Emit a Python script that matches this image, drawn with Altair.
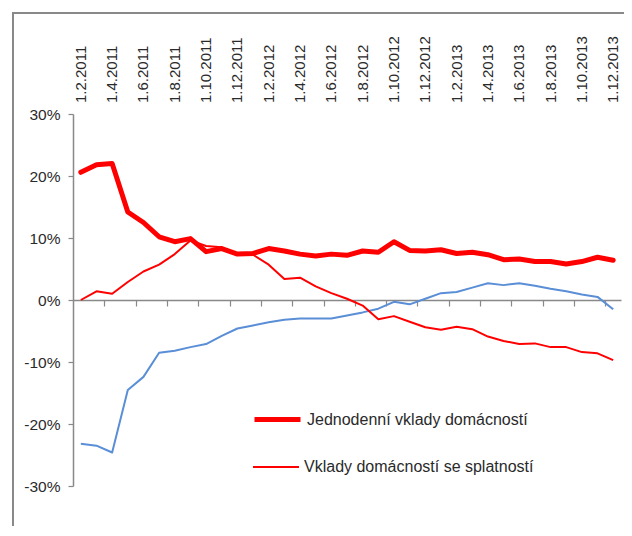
import altair as alt
import pandas as pd

# ---- data -----------------------------------------------------------------
months = []
for k in range(35):
    m = 2 + k
    months.append("1.%d.%d" % ((m - 1) % 12 + 1, 2011 + (m - 1) // 12))

jednodenni = [20.6, 21.8, 22.0, 14.2, 12.5, 10.2, 9.4, 9.9, 7.8, 8.3,
              7.4, 7.5, 8.3, 7.9, 7.4, 7.1, 7.4, 7.2, 7.9, 7.7,
              9.4, 8.0, 7.9, 8.1, 7.5, 7.7, 7.3, 6.5, 6.6, 6.2,
              6.2, 5.8, 6.2, 6.9, 6.4]

splatnost = [0.0, 1.4, 1.0, 2.9, 4.6, 5.7, 7.4, 9.6, 8.7, 8.5,
             7.3, 7.3, 5.7, 3.4, 3.6, 2.2, 1.1, 0.2, -0.9, -3.1,
             -2.6, -3.5, -4.4, -4.8, -4.3, -4.7, -5.9, -6.6, -7.1, -7.0,
             -7.6, -7.6, -8.4, -8.6, -9.7]

ostatni = [-23.2, -23.5, -24.6, -14.5, -12.4, -8.5, -8.2, -7.6, -7.1, -5.8,
           -4.6, -4.1, -3.6, -3.2, -3.0, -3.0, -3.0, -2.5, -2.0, -1.4,
           -0.3, -0.7, 0.2, 1.1, 1.3, 2.0, 2.7, 2.4, 2.7, 2.3,
           1.8, 1.4, 0.9, 0.5, -1.5]

S_J = "Jednodenní vklady domácností"
S_S = "Vklady domácností se splatností"
S_O = "Ostatní"

idx = list(range(len(months)))
df_j = pd.DataFrame({"idx": idx, "value": jednodenni, "series": S_J})
df_s = pd.DataFrame({"idx": idx, "value": splatnost, "series": S_S})
df_o = pd.DataFrame({"idx": idx, "value": ostatni, "series": S_O})
df_lab = pd.DataFrame({"idx": idx[::2], "label": months[::2]})
df_frame = pd.DataFrame({"a": [0]})

FONT = "Liberation Sans"
GRAY = "#898989"
TXT = "#2a2a2a"

x_scale = alt.Scale(domain=[-0.5, 34.5], nice=False, zero=False)
y_scale = alt.Scale(domain=[-30, 30], nice=False, zero=False)

x_axis = alt.Axis(orient="bottom", offset=-186,
                  values=[i + 0.5 for i in range(1, 34, 2)],
                  labels=False, grid=False, title=None,
                  domainColor=GRAY, domainWidth=1.5,
                  tickColor=GRAY, tickSize=6, tickWidth=1.2)
y_axis = alt.Axis(values=list(range(-30, 31, 10)),
                  labelExpr="datum.value + '%'", grid=False, title=None,
                  domainColor=GRAY, domainWidth=1.5,
                  tickColor=GRAY, tickSize=5, tickWidth=1.2,
                  labelPadding=8, labelFont=FONT, labelFontSize=15.5,
                  labelColor=TXT)

X = alt.X("idx:Q", scale=x_scale, axis=x_axis)
Y = alt.Y("value:Q", scale=y_scale, axis=y_axis)

frame = alt.Chart(df_frame).mark_rect(filled=False, stroke=GRAY, strokeWidth=2).encode(
    x=alt.value(-60), y=alt.value(-101), x2=alt.value(900), y2=alt.value(900)
)

blue = alt.Chart(df_o).mark_line(color="#5a8ed6", strokeWidth=2, strokeJoin="round").encode(
    x=X, y=Y
)

thin = alt.Chart(df_s).mark_line(strokeWidth=2, strokeJoin="round").encode(
    x=X, y=Y,
    color=alt.Color("series:N", scale=alt.Scale(domain=[S_S], range=["#ff0000"]),
                    legend=alt.Legend(orient="none", legendX=179, legendY=329,
                                      title=None, padding=0,
                                      symbolType="stroke", symbolSize=2116,
                                      symbolStrokeWidth=2,
                                      labelFont=FONT, labelFontSize=16,
                                      labelColor=TXT, labelLimit=500,
                                      labelOffset=4))
)

thick = alt.Chart(df_j).mark_line(strokeWidth=5, strokeJoin="round", strokeCap="round").encode(
    x=X, y=Y,
    color=alt.Color("series:N", scale=alt.Scale(domain=[S_J], range=["#ff0000"]),
                    legend=alt.Legend(orient="none", legendX=179, legendY=280,
                                      title=None, padding=0,
                                      symbolType="stroke", symbolSize=2116,
                                      symbolStrokeWidth=5,
                                      labelFont=FONT, labelFontSize=16,
                                      labelColor=TXT, labelLimit=500,
                                      labelOffset=4))
)

labels = alt.Chart(df_lab).mark_text(angle=270, align="left", baseline="middle",
                                     font=FONT, fontSize=15, color=TXT).encode(
    x=X, y=alt.value(-11), text="label:N"
)

chart = alt.layer(frame, blue, thin, thick, labels).resolve_scale(
    color="independent"
).properties(
    width=548, height=372,
    autosize=alt.AutoSizeParams(type="none"),
    padding={"left": 65, "top": 106, "right": 3, "bottom": 40},
).configure_view(strokeWidth=0)

chart.save("out.html", embed_options={"renderer": "svg", "actions": False})
